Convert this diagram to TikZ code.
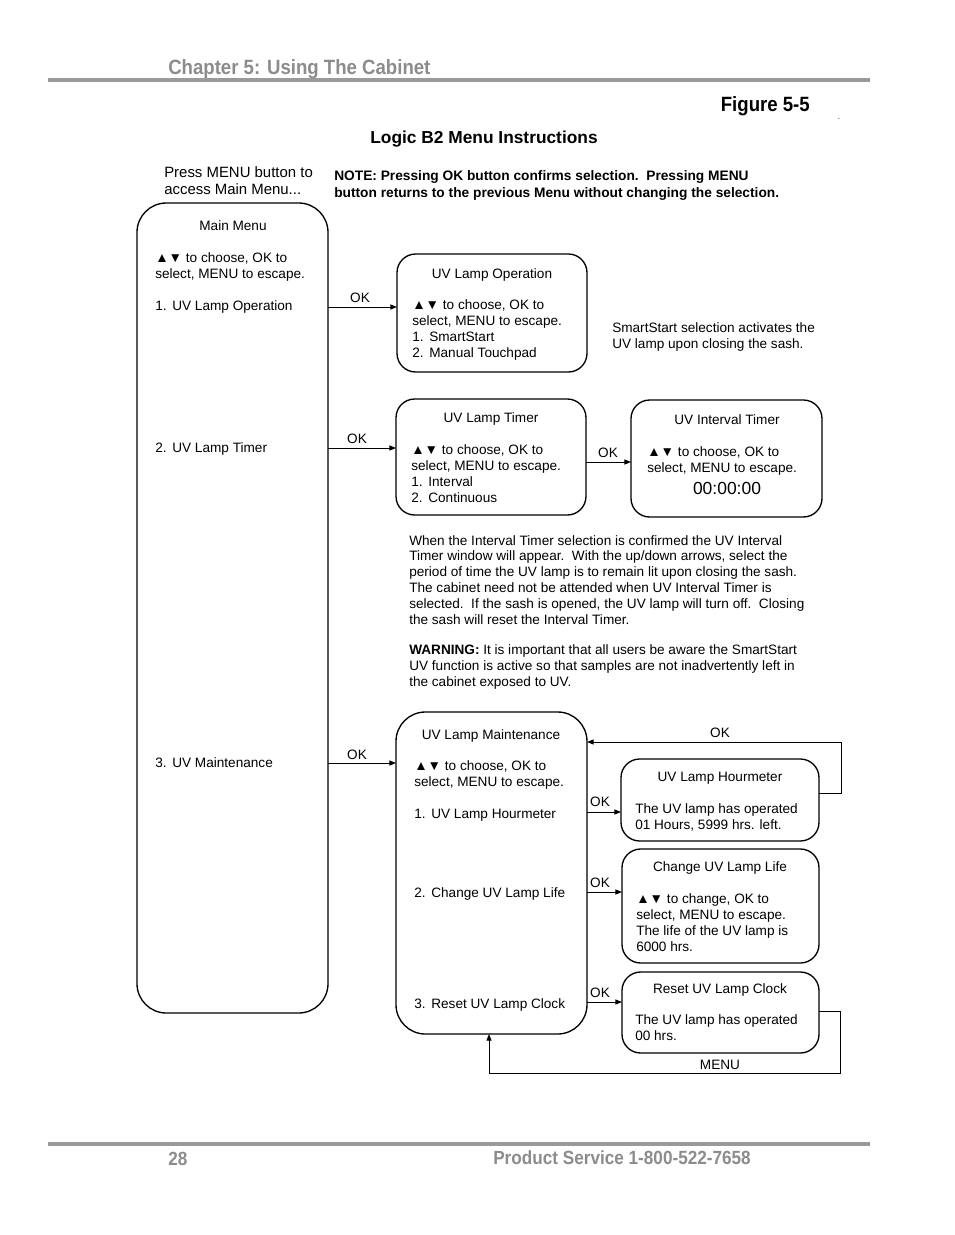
\documentclass[tikz,border=0pt]{standalone}
\usepackage{fontspec}
\setmainfont{Liberation Sans}
\newfontfamily\narfont[FakeStretch=0.9]{Liberation Sans}
\usetikzlibrary{arrows.meta,fit}
\definecolor{hdrgray}{HTML}{8C8C8C}
\definecolor{rulegray}{HTML}{9A9A9A}
\newcommand\itm[1]{\makebox[12.8pt][l]{#1}}
\begin{document}
\begin{tikzpicture}[x=0.75pt,y=-0.75pt,
  bigbox/.style={draw, line width=1pt, rounded corners=22pt, inner sep=0pt, outer sep=0pt},
  smallbox/.style={draw, line width=1pt, rounded corners=14pt, inner sep=0pt, outer sep=0pt},
  conn/.style={line width=0.75pt, -{Triangle[length=5pt,width=3.8pt]}},
  txt/.style={font=\fontsize{10.2}{12}\selectfont, inner sep=0pt},
  lbl/.style={txt, anchor=base},
  lft/.style={txt, anchor=base west},
  blk/.style={txt, anchor=north west, align=left},
  para/.style={blk, font=\fontsize{10.2}{11.85}\selectfont},
  hdr/.style={inner sep=0pt, font=\narfont\fontsize{15.5}{18}\selectfont\bfseries},
]
\fill[white] (0,0) rectangle (954,1235);
\useasboundingbox (0,0) rectangle (954,1235);

% header and footer
\node[hdr, anchor=base west, text=hdrgray] (chap) at (168,74) {Chapter 5: Using The Cabinet};
\draw[rulegray, line width=2.4pt] (48,80) -- (870,80);
\node[hdr, anchor=base east] (fig) at (810,111) {Figure 5-5};
\node[inner sep=0pt, anchor=base, font=\fontsize{6}{7}\selectfont] (dot) at (839,119) {.};
\node[inner sep=0pt, anchor=base, font=\fontsize{13}{15}\selectfont\bfseries] (title) at (484,143) {Logic B2 Menu Instructions};
\node[inner sep=0pt, anchor=north west, align=left, font=\fontsize{11.2}{12.75}\selectfont] (press) at (164,166) {Press MENU button to\\access Main Menu...};
\node[inner sep=0pt, anchor=north west, align=left, font=\fontsize{10.3}{12.75}\selectfont\bfseries] (note) at (334,170) {NOTE: Pressing OK button confirms selection.\ \ Pressing MENU\\button returns to the previous Menu without changing the selection.};
\draw[rulegray, line width=2.4pt] (48,1144) -- (870,1144);
\node[hdr, anchor=base west, text=hdrgray, font=\narfont\fontsize{14.3}{17}\selectfont\bfseries] (page) at (168,1165) {28};
\node[hdr, anchor=base west, text=hdrgray, font=\narfont\fontsize{14.3}{17}\selectfont\bfseries] (svc) at (493,1164) {Product Service 1-800-522-7658};

% level coordinates
\coordinate (y307) at (0,307);
\coordinate (y448) at (0,448);
\coordinate (y462) at (0,462);
\coordinate (y763) at (0,763);
\coordinate (y742) at (0,742);
\coordinate (y793) at (0,793);
\coordinate (y812) at (0,812);
\coordinate (y892) at (0,892);
\coordinate (y1002) at (0,1002);
\coordinate (y1011) at (0,1011);
\coordinate (mcorner) at (489,1073);

% main menu
\node[bigbox, fit={(137,203) (328,1013)}] (main) {};
\node[lbl] (mmt) at (233,230) {Main Menu};
\node[blk] (mmx) at (155,252) {▲▼ to choose, OK to\\select, MENU to escape.};
\node[lft] (mm1) at (155,310) {\itm{1.}UV Lamp Operation};
\node[lft] (mm2) at (155,452) {\itm{2.}UV Lamp Timer};
\node[lft] (mm3) at (155,767) {\itm{3.}UV Maintenance};

% UV lamp operation
\node[smallbox, fit={(397,254) (587,372)}] (op) {};
\node[lbl] (opt) at (492,278) {UV Lamp Operation};
\node[blk] (opx) at (412,299) {▲▼ to choose, OK to\\select, MENU to escape.\\\itm{1.}SmartStart\\\itm{2.}Manual Touchpad};
\node[blk] (ss) at (612,322) {SmartStart selection activates the\\UV lamp upon closing the sash.};
\draw[conn] (main.east |- y307) -- (op.west |- y307);
\node[lbl] (ok1) at (360,302) {OK};

% UV lamp timer
\node[smallbox, fit={(396,399) (586,515)}] (tm) {};
\node[lbl] (tmt) at (491,422) {UV Lamp Timer};
\node[blk] (tmx) at (411,444) {▲▼ to choose, OK to\\select, MENU to escape.\\\itm{1.}Interval\\\itm{2.}Continuous};
\draw[conn] (main.east |- y448) -- (tm.west |- y448);
\node[lbl] (ok2) at (357,443) {OK};

% UV interval timer
\node[smallbox, fit={(631,400) (822,517)}] (iv) {};
\node[lbl] (ivt) at (727,424) {UV Interval Timer};
\node[blk] (ivx) at (647,446) {▲▼ to choose, OK to\\select, MENU to escape.};
\node[inner sep=0pt, anchor=base, font=\fontsize{13.1}{15}\selectfont] (ivc) at (727,494) {00:00:00};
\draw[conn] (tm.east |- y462) -- (iv.west |- y462);
\node[lbl] (ok3) at (608,457) {OK};

% paragraphs
\node[para] (p1) at (409,535) {When the Interval Timer selection is confirmed the UV Interval\\Timer window will appear.\ \ With the up/down arrows, select the\\period of time the UV lamp is to remain lit upon closing the sash.\\The cabinet need not be attended when UV Interval Timer is\\selected.\ \ If the sash is opened, the UV lamp will turn off.\ \ Closing\\the sash will reset the Interval Timer.};
\node[para, font=\fontsize{10.2}{12}\selectfont] (p2) at (409,644) {\textbf{WARNING:} It is important that all users be aware the SmartStart\\UV function is active so that samples are not inadvertently left in\\the cabinet exposed to UV.};

% UV lamp maintenance
\node[bigbox, fit={(396,712) (587,1034)}] (mt) {};
\node[lbl] (mtt) at (491,739) {UV Lamp Maintenance};
\node[blk] (mtx) at (414,760) {▲▼ to choose, OK to\\select, MENU to escape.};
\node[lft] (mt1) at (414,818) {\itm{1.}UV Lamp Hourmeter};
\node[lft] (mt2) at (414,897) {\itm{2.}Change UV Lamp Life};
\node[lft] (mt3) at (414,1008) {\itm{3.}Reset UV Lamp Clock};
\draw[conn] (main.east |- y763) -- (mt.west |- y763);
\node[lbl] (ok4) at (357,759) {OK};

% hourmeter
\node[smallbox, fit={(621,759) (819,841)}] (hm) {};
\node[lbl] (hmt) at (720,781) {UV Lamp Hourmeter};
\node[blk] (hmx) at (635,803) {The UV lamp has operated\\01 Hours, 5999 hrs. left.};
\draw[conn] (mt.east |- y812) -- (hm.west |- y812);
\node[lbl] (ok5) at (600,806) {OK};
\draw[conn] (hm.east |- y793) -- ++(22,0) |- (mt.east |- y742);
\node[lbl] (ok6) at (720,737) {OK};

% change lamp life
\node[smallbox, fit={(622,849) (819,963)}] (cl) {};
\node[lbl] (clt) at (720,871) {Change UV Lamp Life};
\node[blk] (clx) at (636,893) {▲▼ to change, OK to\\select, MENU to escape.\\The life of the UV lamp is\\6000 hrs.};
\draw[conn] (mt.east |- y892) -- (cl.west |- y892);
\node[lbl] (ok7) at (600,887) {OK};

% reset clock
\node[smallbox, fit={(622,972) (819,1053)}] (rc) {};
\node[lbl] (rct) at (720,993) {Reset UV Lamp Clock};
\node[blk] (rcx) at (635,1014) {The UV lamp has operated\\00 hrs.};
\draw[conn] (mt.east |- y1002) -- (rc.west |- y1002);
\node[lbl] (ok8) at (600,997) {OK};
\draw[conn] (rc.east |- y1011) -- ++(21,0) |- (mcorner) -- (mt.south -| mcorner);
\node[lbl] (menu) at (720,1069) {MENU};
\end{tikzpicture}
\end{document}
